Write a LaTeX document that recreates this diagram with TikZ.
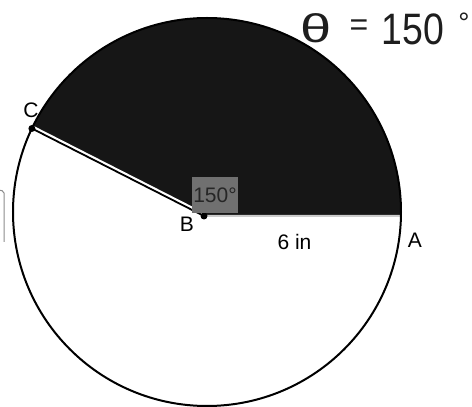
\documentclass[tikz,border=0pt]{standalone}
\usepackage{fontspec}
\setmainfont{Liberation Sans}
\usetikzlibrary{calc}
\definecolor{sectorfill}{HTML}{161616}
\definecolor{boxgray}{HTML}{707070}
\definecolor{handink}{HTML}{1e1e1e}
\tikzset{
  lbl/.style={font=\fontsize{21}{21}\selectfont, text=black, inner sep=0pt},
  hand/.style={font=\fontsize{44}{44}\selectfont, text=handink, inner sep=0pt},
  dotpt/.style={fill=black},
}
\begin{document}
\begin{tikzpicture}[x=1pt,y=1pt]
\useasboundingbox (0,0) rectangle (472,407);
\fill[white] (0,0) rectangle (472,407);
\coordinate (O) at (207,195);
\coordinate (B) at (204,191);
\coordinate (A) at ($(O)+(-1.18:194)$);
\coordinate (C) at ($(O)+(154.5:194)$);
% shaded sector
\fill[sectorfill] (B) -- (A) arc[start angle=-1.18, end angle=154.5, radius=194] -- cycle;
% radius B--A
\draw[line width=2, black!20] (B) -- (A);
% radius B--C
\draw[line width=2.6, white] ($(B)+(0.453*1.8,0.891*1.8)$) -- ($(C)+(0.453*1.8,0.891*1.8)$);
\draw[line width=1.8, black] (B) -- (C);
% circle
\draw[line width=2, black] (O) circle[radius=194];
% points
\fill[dotpt] (B) circle[radius=3.5];
\fill[dotpt] (C) circle[radius=3.5];
% angle box
\node[fill=boxgray, minimum width=46, minimum height=36, inner sep=0pt, anchor=center,
      font=\fontsize{21}{21}\selectfont, text=black!85] (ang) at (215,212) {150\textdegree};
% labels
\node[lbl] (lC) at (31,297) {C};
\node[lbl] (lB) at (187,183) {B};
\node[lbl] (lA) at (415,167) {A};
\node[lbl] (len) at (294.5,165.5) {6 in};
% handwritten note
\node[hand, font=\fontsize{40}{40}\selectfont, xscale=1.4] (th) at (316,379) {θ};
\node[hand, font=\fontsize{32}{32}\selectfont] (eq) at (359,379) {=};
\node[hand, xscale=0.85] (num) at (413,378) {150};
\node[hand, font=\fontsize{28}{28}\selectfont] (deg) at (464,384) {°};
% cut-off box at left edge
\draw[line width=1, black!45, rounded corners=2] (-2,217) -- (4,216) -- (4,165);
\end{tikzpicture}
\end{document}
